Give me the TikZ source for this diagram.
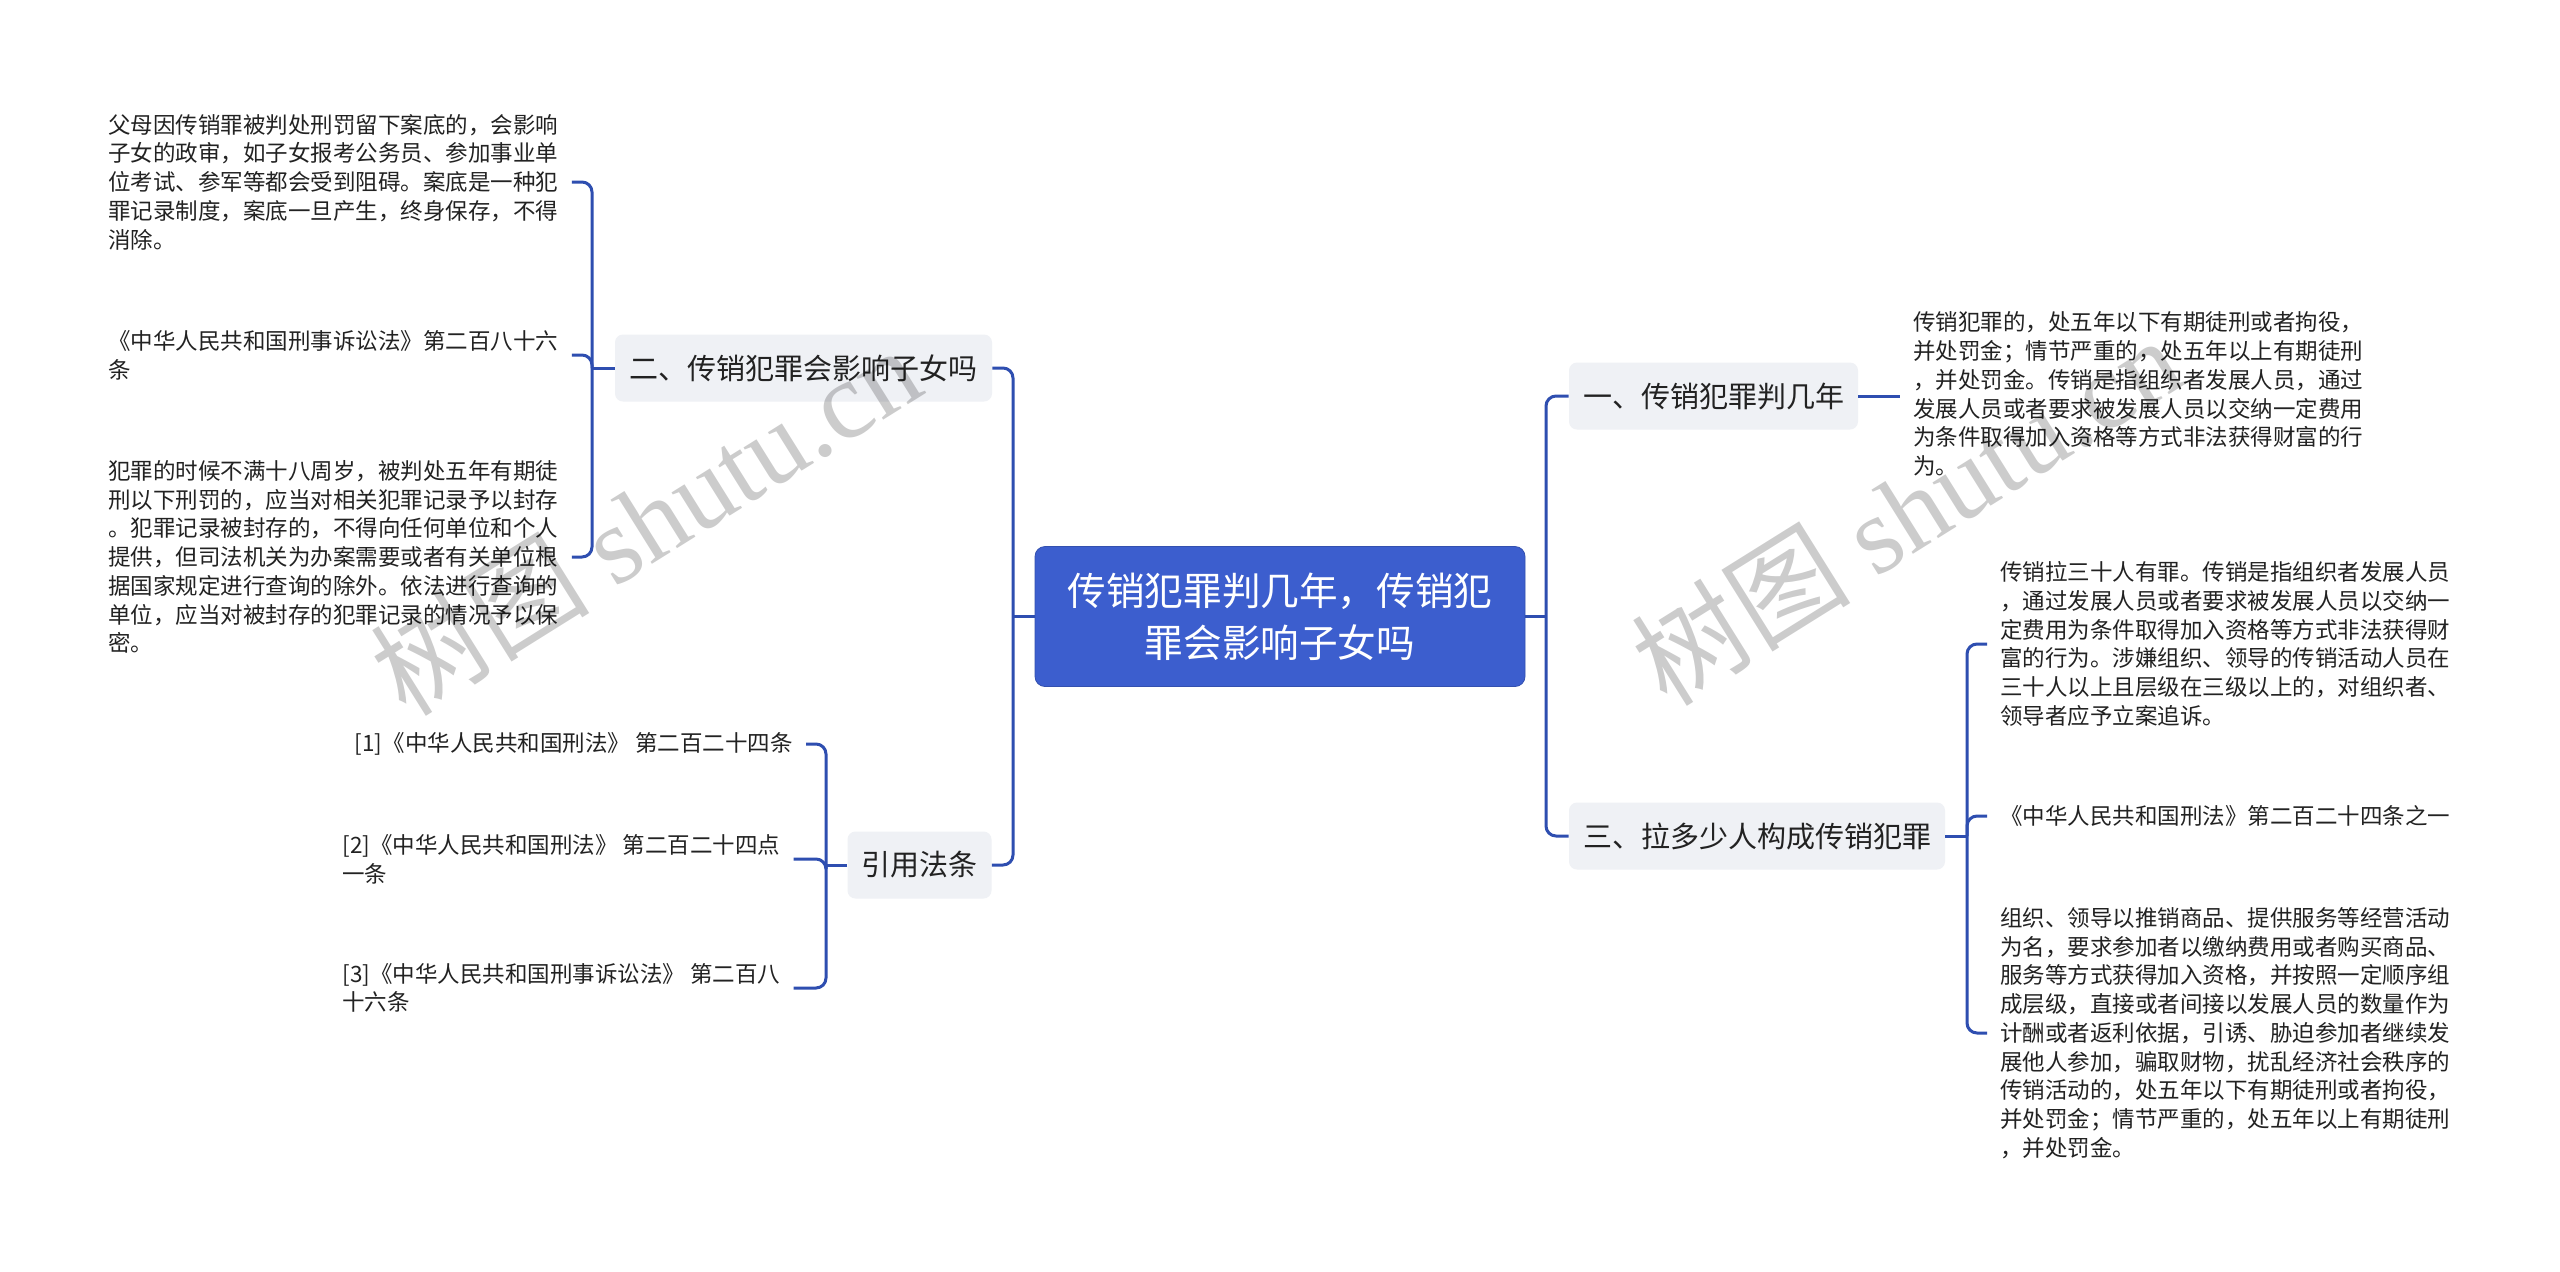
\documentclass[tikz,border=0pt]{standalone}
\usepackage{fontspec}
\setmainfont{Noto Sans CJK SC}
\newfontfamily\wmlatin{Liberation Serif}
\definecolor{rootblue}{RGB}{60,94,206}
\definecolor{lineblue}{RGB}{46,78,176}
\definecolor{boxgray}{RGB}{239,241,245}
\definecolor{txt}{RGB}{34,34,34}
\newcommand\dtlfont{\fontsize{11.25}{14.35}\selectfont}
\newcommand\brfont{\fontsize{14.5}{17}\selectfont}
\newcommand\rtfont{\fontsize{19.3}{26}\selectfont}
\tikzset{
  conn/.style={draw=lineblue, line width=1.5pt, rounded corners=5pt},
  rootbox/.style={fill=rootblue, draw=rootblue!85!black, line width=0.4pt, rounded corners=5pt, text=white, font=\rtfont, align=center, minimum width=245pt, minimum height=70pt},
  branch/.style={fill=boxgray, rounded corners=4pt, minimum height=33.5pt, inner xsep=7pt, font=\brfont, text=txt},
  detail/.style={align=left, inner xsep=6.5pt, inner ysep=0pt, font=\dtlfont, text=txt},
  wmark/.style={rotate=32, text=black, opacity=0.2, font=\fontsize{55}{60}\selectfont}
}
\begin{document}
\begin{tikzpicture}[x=0.5pt,y=-0.5pt]
\useasboundingbox (0,0) rectangle (2560,1271);
\fill[white] (0,0) rectangle (2560,1271);

% root
\node[rootbox] (root) at (1280,616.5) {传销犯罪判几年，传销犯\\罪会影响子女吗};

% branches
\node[branch, minimum width=188.5pt] (b2) at (803.5,368) {二、传销犯罪会影响子女吗};
\node[branch, minimum width=71.5pt] (b4) at (919.5,865) {引用法条};
\node[branch, minimum width=144.5pt] (b1) at (1713.5,396) {一、传销犯罪判几年};
\node[branch, minimum width=188pt] (b3) at (1757,836) {三、拉多少人构成传销犯罪};

% left details of b2
\node[detail, anchor=west] (t1) at (95,182) {父母因传销罪被判处刑罚留下案底的，会影响\\子女的政审，如子女报考公务员、参加事业单\\位考试、参军等都会受到阻碍。案底是一种犯\\罪记录制度，案底一旦产生，终身保存，不得\\消除。};
\node[detail, anchor=west] (t2) at (95,355) {《中华人民共和国刑事诉讼法》第二百八十六\\条};
\node[detail, anchor=west] (t3) at (95,557) {犯罪的时候不满十八周岁，被判处五年有期徒\\刑以下刑罚的，应当对相关犯罪记录予以封存\\。犯罪记录被封存的，不得向任何单位和个人\\提供，但司法机关为办案需要或者有关单位根\\据国家规定进行查询的除外。依法进行查询的\\单位，应当对被封存的犯罪记录的情况予以保\\密。};

% references
\node[detail, anchor=east] (f1) at (806,744) {[1]《中华人民共和国刑法》 第二百二十四条};
\node[detail, anchor=west] (f2) at (329,859) {[2]《中华人民共和国刑法》 第二百二十四点\\一条};
\node[detail, anchor=west] (f3) at (329,988) {[3]《中华人民共和国刑事诉讼法》 第二百八\\十六条};

% right details
\node[detail, anchor=west] (r1) at (1900,394) {传销犯罪的，处五年以下有期徒刑或者拘役，\\并处罚金；情节严重的，处五年以上有期徒刑\\，并处罚金。传销是指组织者发展人员，通过\\发展人员或者要求被发展人员以交纳一定费用\\为条件取得加入资格等方式非法获得财富的行\\为。};
\node[detail, anchor=west] (rA) at (1987,644) {传销拉三十人有罪。传销是指组织者发展人员\\，通过发展人员或者要求被发展人员以交纳一\\定费用为条件取得加入资格等方式非法获得财\\富的行为。涉嫌组织、领导的传销活动人员在\\三十人以上且层级在三级以上的，对组织者、\\领导者应予立案追诉。};
\node[detail, anchor=west] (rB) at (1987,816) {《中华人民共和国刑法》第二百二十四条之一};
\node[detail, anchor=west] (rC) at (1987,1033) {组织、领导以推销商品、提供服务等经营活动\\为名，要求参加者以缴纳费用或者购买商品、\\服务等方式获得加入资格，并按照一定顺序组\\成层级，直接或者间接以发展人员的数量作为\\计酬或者返利依据，引诱、胁迫参加者继续发\\展他人参加，骗取财物，扰乱经济社会秩序的\\传销活动的，处五年以下有期徒刑或者拘役，\\并处罚金；情节严重的，处五年以上有期徒刑\\，并处罚金。};

% junction coordinates
\coordinate (jL) at (1013,616.5);
\coordinate (jR) at (1546,616.5);
\coordinate (jB2) at (592,368);
\coordinate (jB4) at (826,865);
\coordinate (jB3) at (1967,836);

% connectors: root level
\draw[conn] (root.west) -- (jL);
\draw[conn] (b2.east) -| (jL) |- (b4.east);
\draw[conn] (root.east) -- (jR);
\draw[conn] (b1.west) -| (jR) |- (b3.west);

% b2 children
\draw[conn] (b2.west) -- (jB2);
\draw[conn] (t1.east) -| (jB2);
\draw[conn] (t2.east) -| (jB2);
\draw[conn] (t3.east) -| (jB2);

% b4 children
\draw[conn] (b4.west) -- (jB4);
\draw[conn] (f1.east) -| (jB4);
\draw[conn] (f2.east) -| (jB4);
\draw[conn] (f3.east) -| (jB4);

% b1 child
\draw[conn] (b1.east) -- (b1.east -| r1.west);

% b3 children
\draw[conn] (b3.east) -- (jB3);
\draw[conn] (jB3) |- (rA.west);
\draw[conn] (jB3) |- (rB.west);
\draw[conn] (jB3) |- (rC.west);

% watermarks
\node[wmark] (w1) at (645,520) {树图 {\wmlatin shutu.cn}};
\node[wmark] (w2) at (1906,510) {树图 {\wmlatin shutu.cn}};
\end{tikzpicture}
\end{document}
